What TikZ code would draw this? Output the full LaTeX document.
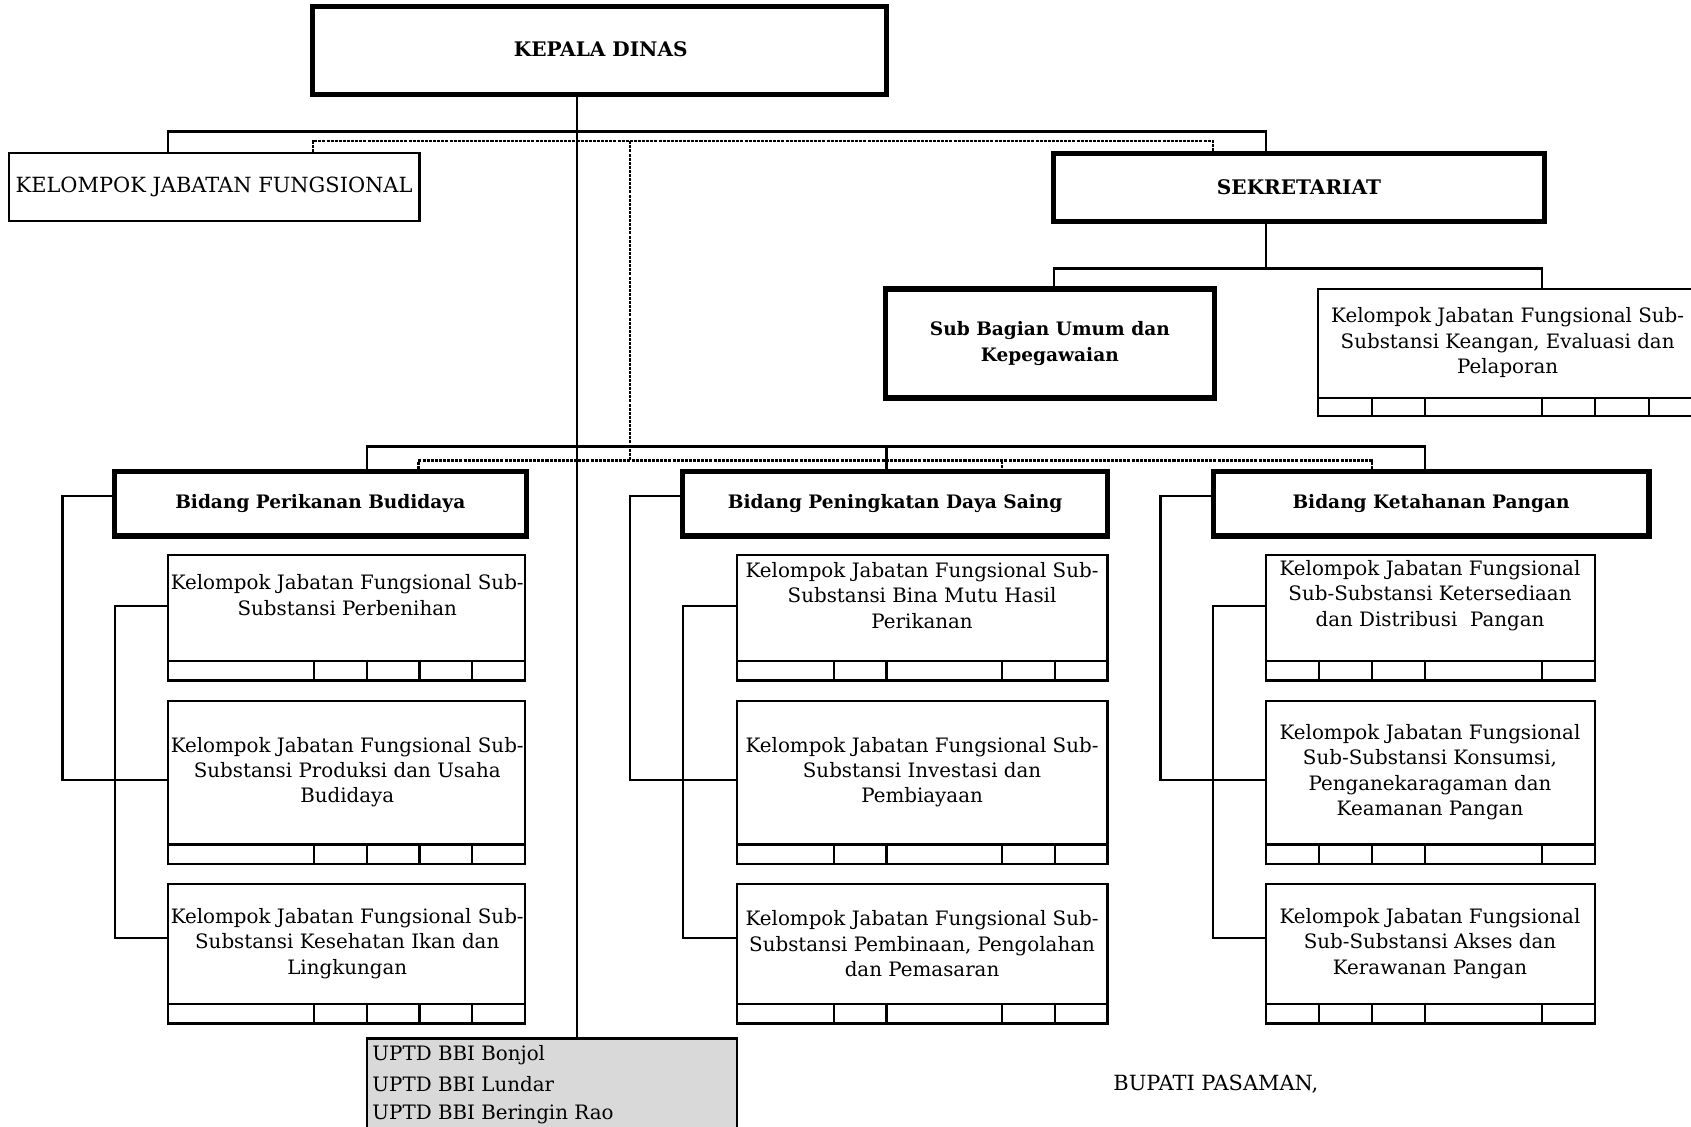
\documentclass[tikz,border=0pt]{standalone}
\usepackage{fontspec}
\setmainfont{DejaVu Serif}
\usetikzlibrary{fit}
\newcommand\orgsubbox[7]{%
  \node[thinbox, fit={(#2,#3) (#4,#5)}] (#1) {};
  \node[thinbox, fit={(#2,#5) (#4,#6)}] (#1s) {};
  \foreach \dd in {#7} \draw[conn] (\dd,#5) -- (\dd,#6);
}
\begin{document}
\begin{tikzpicture}[x=0.5pt,y=-0.5pt,
  every node/.style={font=\fontsize{9.2}{11.8}\selectfont},
  thickbox/.style={draw, line width=2.4pt, inner sep=0pt},
  thinbox/.style={draw, line width=1pt, inner sep=0pt},
  conn/.style={line width=1pt},
  dotconn/.style={line width=1pt, dash pattern=on 1.4pt off 0.5pt},
  txt/.style={align=center, inner sep=0pt},
  capstxt/.style={align=center, inner sep=0pt, font=\fontsize{9.7}{12}\selectfont},
  boldtxt/.style={align=center, inner sep=0pt, font=\fontsize{8.6}{12}\selectfont\bfseries},
  boldcaps/.style={align=center, inner sep=0pt, font=\fontsize{9.3}{12}\selectfont\bfseries}
]
\useasboundingbox (0,0) rectangle (1568,1045);

% top level
\node[thickbox, fit={(290,6) (822,88)}] (kd) {};
\node[boldcaps] (kdt) at (557,46) {KEPALA DINAS};
\node[thinbox, fit={(8,142) (389,205)}] (kjf) {};
\node[capstxt] (kjft) at (kjf.center) {KELOMPOK JABATAN FUNGSIONAL};
\node[thickbox, fit={(977,142) (1432,205)}] (sek) {};
\node[boldcaps] (sekt) at (sek.center) {SEKRETARIAT};
\node[thickbox, fit={(821,268) (1126,369)}] (sub) {};
\node[boldtxt] (subt) at (sub.center) {Sub Bagian Umum dan\\Kepegawaian};
\orgsubbox{keu}{1222}{268}{1580}{369}{386}{1272,1321,1430,1479,1529}
\node[txt] (keut) at (1398,318) {Kelompok Jabatan Fungsional Sub-\\Substansi Keangan, Evaluasi dan\\Pelaporan};

% bidang
\node[thickbox, fit={(106,437) (488,497)}] (bpb) {};
\node[boldtxt] (bpbt) at (bpb.center) {Bidang Perikanan Budidaya};
\node[thickbox, fit={(633,437) (1027,497)}] (bpd) {};
\node[boldtxt] (bpdt) at (bpd.center) {Bidang Peningkatan Daya Saing};
\node[thickbox, fit={(1125,437) (1529,497)}] (bkp) {};
\node[boldtxt] (bkpt) at (bkp.center) {Bidang Ketahanan Pangan};

% column 1
\orgsubbox{b11}{156}{515}{487}{613}{631}{291,340,389,438}
\orgsubbox{b12}{156}{650}{487}{783}{801}{291,340,389,438}
\orgsubbox{b13}{156}{820}{487}{931}{949}{291,340,389,438}
\node[txt] (b11t) at (322,552) {Kelompok Jabatan Fungsional Sub-\\Substansi Perbenihan};
\node[txt] (b12t) at (322,716) {Kelompok Jabatan Fungsional Sub-\\Substansi Produksi dan Usaha\\Budidaya};
\node[txt] (b13t) at (322,875) {Kelompok Jabatan Fungsional Sub-\\Substansi Kesehatan Ikan dan\\Lingkungan};

% column 2
\orgsubbox{b21}{683}{515}{1027}{613}{631}{773,822,929,978}
\orgsubbox{b22}{683}{650}{1027}{783}{801}{773,822,929,978}
\orgsubbox{b23}{683}{820}{1027}{931}{949}{773,822,929,978}
\node[txt] (b21t) at (855,552) {Kelompok Jabatan Fungsional Sub-\\Substansi Bina Mutu Hasil\\Perikanan};
\node[txt] (b22t) at (855,716) {Kelompok Jabatan Fungsional Sub-\\Substansi Investasi dan\\Pembiayaan};
\node[txt] (b23t) at (855,875) {Kelompok Jabatan Fungsional Sub-\\Substansi Pembinaan, Pengolahan\\dan Pemasaran};

% column 3
\orgsubbox{b31}{1174}{515}{1479}{613}{631}{1223,1272,1321,1430}
\orgsubbox{b32}{1174}{650}{1479}{783}{801}{1223,1272,1321,1430}
\orgsubbox{b33}{1174}{820}{1479}{931}{949}{1223,1272,1321,1430}
\node[txt] (b31t) at (1326,552) {Kelompok Jabatan Fungsional\\Sub-Substansi Ketersediaan\\dan Distribusi\ \ Pangan};
\node[txt] (b32t) at (1326,716) {Kelompok Jabatan Fungsional\\Sub-Substansi Konsumsi,\\Penganekaragaman dan\\Keamanan Pangan};
\node[txt] (b33t) at (1326,875) {Kelompok Jabatan Fungsional\\Sub-Substansi Akses dan\\Kerawanan Pangan};

% UPTD
\node[thinbox, fill=black!15, fit={(340,963) (683,1060)}] (upt) {};
\node[anchor=west, inner sep=0pt] (u1) at (345,978) {UPTD BBI Bonjol};
\node[anchor=west, inner sep=0pt] (u2) at (345,1005) {UPTD BBI Lundar};
\node[anchor=west, inner sep=0pt] (u3) at (345,1033) {UPTD BBI Beringin Rao};

\node[anchor=west, inner sep=0pt, font=\fontsize{9.7}{12}\selectfont] (bup) at (1032,1005) {BUPATI PASAMAN,};

% connector coordinates
\coordinate (t) at (535,0);
\coordinate (h1) at (156,122);
\coordinate (h2) at (1174,122);
\coordinate (d1) at (290,131);
\coordinate (d2) at (1125,131);
\coordinate (dv1) at (584,131);
\coordinate (dv2) at (584,427);
\coordinate (e1) at (388,427);
\coordinate (e2) at (929,427);
\coordinate (e3) at (1272,427);
\coordinate (g1) at (340,414);
\coordinate (g2) at (822,414);
\coordinate (g3) at (1321,414);
\coordinate (s1) at (1174,249);
\coordinate (s2) at (977,249);
\coordinate (s3) at (1430,249);

% main connectors
\draw[conn] (kd.south -| t) -- (upt.north -| t);
\draw[conn] (kjf.north -| h1) -- (h1) -- (h2) -- (sek.north -| h2);
\draw[dotconn] (kjf.north -| d1) -- (d1) -- (d2) -- (sek.north -| d2);
\draw[dotconn] (dv1) -- (dv2);
\draw[dotconn] (bpb.north -| e1) -- (e1) -- (e3) -- (bkp.north -| e3);
\draw[dotconn] (e2) -- (bpd.north -| e2);
\draw[conn] (bpb.north -| g1) -- (g1) -- (g3) -- (bkp.north -| g3);
\draw[conn] (g2) -- (bpd.north -| g2);
\draw[conn] (sek.south -| s1) -- (s1);
\draw[conn] (sub.north -| s2) -- (s2) -- (s3) -- (keu.north -| s3);

% side connectors column 1
\coordinate (a1) at (58,460);  \coordinate (a2) at (58,723);
\coordinate (c1) at (107,562); \coordinate (c2) at (107,870);
\draw[conn] (bpb.west |- a1) -- (a1) -- (a2) -- (b12.west |- a2);
\draw[conn] (b11.west |- c1) -- (c1) -- (c2) -- (b13.west |- c2);
% column 2
\coordinate (a3) at (584,460);  \coordinate (a4) at (584,723);
\coordinate (c3) at (633,562);  \coordinate (c4) at (633,870);
\draw[conn] (bpd.west |- a3) -- (a3) -- (a4) -- (b22.west |- a4);
\draw[conn] (b21.west |- c3) -- (c3) -- (c4) -- (b23.west |- c4);
% column 3
\coordinate (a5) at (1076,460); \coordinate (a6) at (1076,723);
\coordinate (c5) at (1125,562); \coordinate (c6) at (1125,870);
\draw[conn] (bkp.west |- a5) -- (a5) -- (a6) -- (b32.west |- a6);
\draw[conn] (b31.west |- c5) -- (c5) -- (c6) -- (b33.west |- c6);
\end{tikzpicture}
\end{document}
